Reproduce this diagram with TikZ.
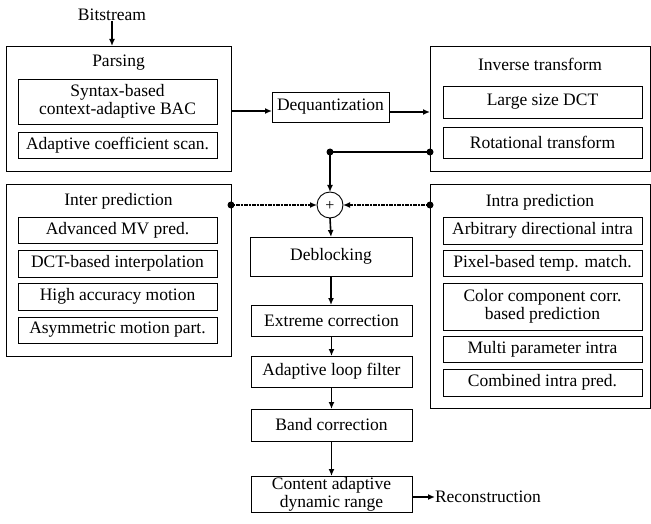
\documentclass[tikz,border=0pt]{standalone}
\usepackage{fontspec}
\setmainfont{Liberation Serif}
\usetikzlibrary{arrows.meta,calc}
\begin{document}
\begin{tikzpicture}[x=1pt,y=-1pt,
  every node/.style={font=\fontsize{17.5}{19}\selectfont, inner sep=0pt, outer sep=0pt},
  outerbox/.style={draw, line width=0.9pt, anchor=center},
  unit/.style={draw, line width=0.9pt, align=center, anchor=center},
  title/.style={anchor=center},
  flow/.style={line width=1.6pt, -{Latex[length=7pt,width=6pt]}},
  feed/.style={line width=1.6pt, dash pattern=on 1.2pt off 0.4pt, -{Latex[length=7pt,width=6pt]}},
  link/.style={line width=1.6pt},
  dot/.style={circle, fill, minimum size=7pt}
]
\useasboundingbox (0,0) rectangle (651,524);

% Parsing stage
\node (bits) at (112,15) {Bitstream};
\node[outerbox, minimum width=225pt, minimum height=125pt] (parse) at (118.5,108.5) {};
\node[title] at (118.5,63) {Parsing};
\node[unit, minimum width=199pt, minimum height=45pt] (bac) at (117.5,101.5) {Syntax-based\\[-1pt]context-adaptive BAC};
\node[unit, minimum width=199pt, minimum height=26pt] (scan) at (117.5,145) {Adaptive coefficient scan.};

% Dequantization
\node[unit, minimum width=117pt, minimum height=30pt] (deq) at (330.5,107) {Dequantization};

% Inverse transform stage
\node[outerbox, minimum width=220pt, minimum height=125pt] (itr) at (540,108.5) {};
\node[title] at (540,64) {Inverse transform};
\node[unit, minimum width=199pt, minimum height=32pt] (dct) at (542.5,102) {Large size DCT};
\node[unit, minimum width=199pt, minimum height=31pt] (rot) at (542.5,142.5) {Rotational transform};

% Inter prediction
\node[outerbox, minimum width=225pt, minimum height=172pt] (inter) at (118.5,270) {};
\node[title] at (118.5,201) {Inter prediction};
\node[unit, minimum width=199pt, minimum height=26pt] (mv) at (117.5,230) {Advanced MV pred.};
\node[unit, minimum width=199pt, minimum height=27pt] (interp) at (117.5,263.5) {DCT-based interpolation};
\node[unit, minimum width=199pt, minimum height=27pt] (hacc) at (117.5,296.5) {High accuracy motion};
\node[unit, minimum width=199pt, minimum height=26pt] (amp) at (117.5,330) {Asymmetric motion part.};

% Intra prediction
\node[outerbox, minimum width=220pt, minimum height=224pt] (intra) at (540,296) {};
\node[title] at (540,202) {Intra prediction};
\node[unit, minimum width=199pt, minimum height=27pt] (adi) at (542.5,230.5) {Arbitrary directional intra};
\node[unit, minimum width=199pt, minimum height=26pt] (ptm) at (542.5,263) {Pixel-based temp. match.};
\node[unit, minimum width=199pt, minimum height=47pt] (ccp) at (542.5,306.5) {Color component corr.\\[-1pt]based prediction};
\node[unit, minimum width=199pt, minimum height=26pt] (mpi) at (542.5,349) {Multi parameter intra};
\node[unit, minimum width=199pt, minimum height=27pt] (cip) at (542.5,382.5) {Combined intra pred.};

% Summation and loop filters
\node[circle, draw, line width=0.9pt, minimum size=26pt] (sum) at (330,205) {};
\node[font=\fontsize{16}{16}\selectfont] at (330,205.5) {+};
\node[unit, minimum width=162pt, minimum height=39pt] (deblk) at (331,256.5) {Deblocking};
\node[unit, minimum width=161pt, minimum height=31pt] (xtr) at (331.5,320.5) {Extreme correction};
\node[unit, minimum width=161pt, minimum height=31pt] (alf) at (331.5,371.5) {Adaptive loop filter};
\node[unit, minimum width=161pt, minimum height=32pt] (band) at (331.5,425) {Band correction};
\node[unit, minimum width=161pt, minimum height=36pt] (cadr) at (331.5,494) {Content adaptive\\[-1pt]dynamic range};
\node[anchor=west] (rec) at (435,497) {Reconstruction};

% Junction points
\coordinate (jr) at (itr.west |- 0,152);
\coordinate (jt) at (sum.north |- jr);
\coordinate (jinter) at (inter.east |- sum);
\coordinate (jintra) at (intra.west |- sum);

% Connectors
\draw[flow] (bits.south) -- (bits.south |- parse.north);
\draw[flow] (parse.east |- 0,111) -- (deq.west |- 0,111);
\draw[flow] (deq.east |- 0,112) -- (itr.west |- 0,112);
\draw[link] (jr) -- (jt);
\draw[flow] (jt) -- (sum.north);
\draw[feed] (jinter) -- (sum.west);
\draw[feed] (jintra) -- (sum.east);
\draw[flow] (sum.south) -- (deblk.north);
\draw[flow] (deblk.south) -- (deblk.south |- xtr.north);
\draw[flow] (xtr.south) -- (alf.north);
\draw[flow] (alf.south) -- (band.north);
\draw[flow] (band.south) -- (cadr.north);
\draw[flow] (cadr.east |- rec.west) -- (rec.west);

\node[dot] at (jr) {};
\node[dot] at (jt) {};
\node[dot] at (jinter) {};
\node[dot] at (jintra) {};
\end{tikzpicture}
\end{document}
